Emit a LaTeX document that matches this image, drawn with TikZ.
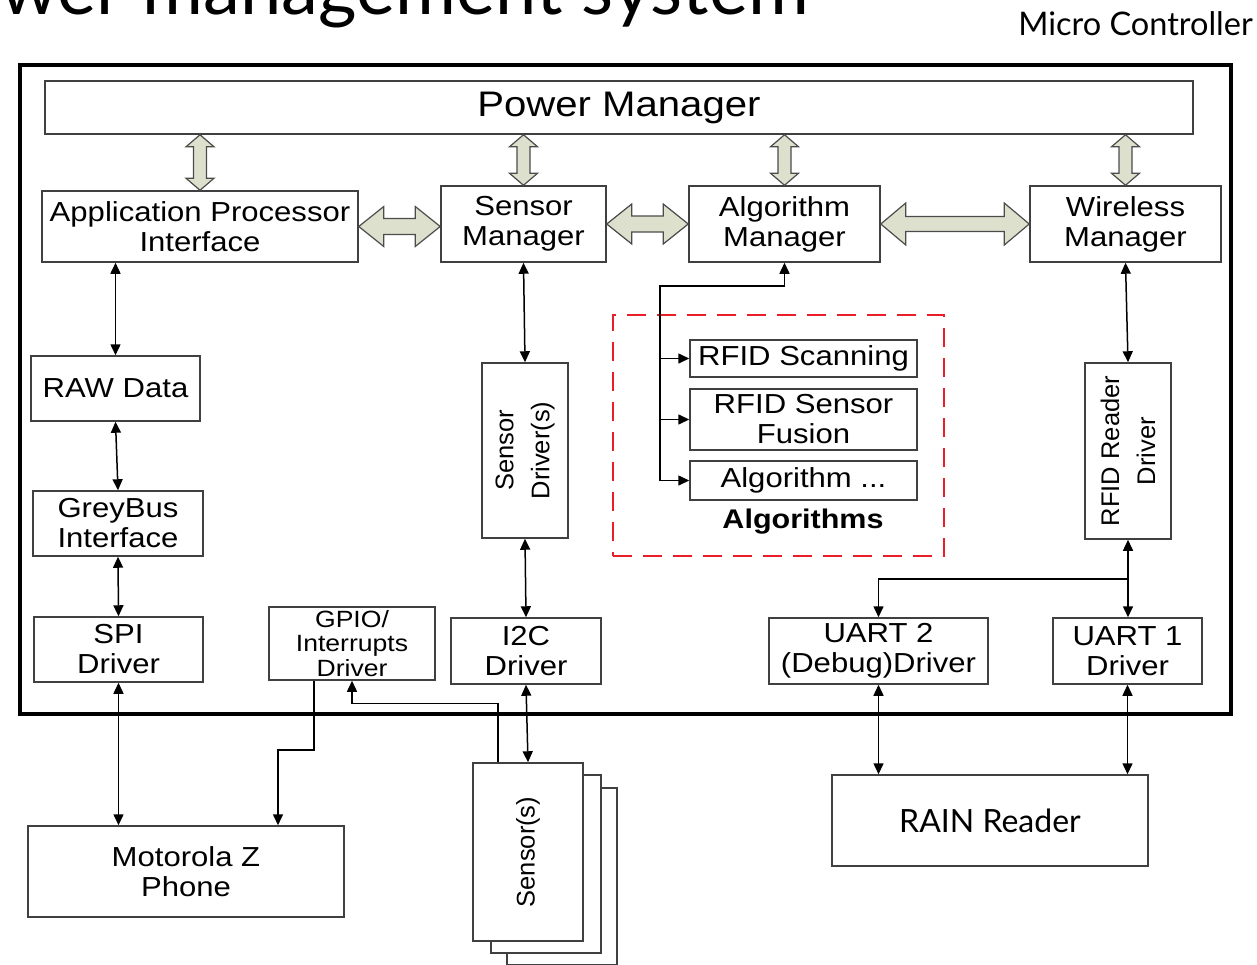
\documentclass[tikz,border=0pt]{standalone}
\usepackage{fontspec}
\setmainfont{Liberation Sans}
\newfontfamily\boxfont[FakeStretch=1.13]{Liberation Sans}
\newfontfamily\latofont{Lato}
\usetikzlibrary{positioning, calc, arrows.meta}

\definecolor{fatfill}{RGB}{221,224,205}
\definecolor{dashred}{RGB}{234,30,40}

% hollow double arrow between two points
\newcommand{\fatlink}[5]{%
  \draw[fat] (#1) -- ($(#1)!#3!(#2)!#4!90:(#2)$) -- ($(#1)!#3!(#2)!#5!90:(#2)$)
    -- ($(#2)!#3!(#1)!#5!-90:(#1)$) -- ($(#2)!#3!(#1)!#4!-90:(#1)$) -- (#2)
    -- ($(#2)!#3!(#1)!#4!90:(#1)$) -- ($(#2)!#3!(#1)!#5!90:(#1)$)
    -- ($(#1)!#3!(#2)!#5!-90:(#2)$) -- ($(#1)!#3!(#2)!#4!-90:(#2)$) -- cycle;}

\begin{document}
\begin{tikzpicture}[x=1pt, y=-1pt, >={Triangle[length=11pt,width=10pt]},
  box/.style={draw=black!75, line width=1.5pt, fill=white, align=center, inner sep=0pt, font=\boxfont\fontsize{27.5}{30}\selectfont},
  vbox/.style={box, rotate=90, font=\fontsize{25.5}{36}\selectfont},
  link/.style={line width=1.5pt},
  fat/.style={draw=black!70, fill=fatfill, line width=1.2pt},
  algbox/.style={draw=dashred, line width=2pt, dash pattern=on 19pt off 11pt}]
  \useasboundingbox (0,0) rectangle (1257,964);

  \node[anchor=base west, inner sep=0pt, font=\latofont\fontsize{74}{74}\selectfont] (title) at (0,14) {wer management system};
  \node[anchor=base east, inner sep=0pt, font=\latofont\fontsize{32.5}{32.5}\selectfont] (mclabel) at (1253,35) {Micro Controller};
  \node[draw, line width=4pt, minimum width=1211pt, minimum height=649pt] (mcu) at (625.5,389.5) {};

  % managers
  \node[box, minimum width=1148pt, minimum height=53pt, font=\boxfont\fontsize{35.5}{35.5}\selectfont] (pm) at (619,107.5) {Power Manager};
  \node[box, minimum width=316pt, minimum height=71pt] (api) at (200,226.5) {Application Processor\\Interface};
  \node[box, minimum width=165pt, minimum height=76pt] (sm) at (523.5,224) {Sensor\\Manager};
  \node[box, minimum width=191pt, minimum height=76pt] (am) at (784.5,224) {Algorithm\\Manager};
  \node[box, minimum width=191pt, minimum height=76pt] (wm) at (1125.5,224) {Wireless\\Manager};

  % drivers
  \node[box, minimum width=169pt, minimum height=65pt] (raw) at (115.5,388.5) {RAW Data};
  \node[box, minimum width=170pt, minimum height=65pt] (gb) at (118,523.5) {GreyBus\\Interface};
  \node[box, minimum width=169pt, minimum height=65pt] (spi) at (118.5,649.5) {SPI\\Driver};
  \node[box, minimum width=166pt, minimum height=73pt, font=\boxfont\fontsize{23.5}{24.5}\selectfont] (gpio) at (352,643.5) {GPIO/\\Interrupts\\Driver};
  \node[box, minimum width=150pt, minimum height=66pt] (i2c) at (526,651) {I2C\\Driver};
  \node[box, minimum width=219pt, minimum height=66pt] (uart2) at (878.5,651) {UART 2\\(Debug)Driver};
  \node[box, minimum width=149pt, minimum height=66pt] (uart1) at (1127.5,651) {UART 1\\Driver};
  \node[vbox, minimum width=175pt, minimum height=86pt] (sd) at (525,450.5) {Sensor\\Driver(s)};
  \node[vbox, minimum width=176pt, minimum height=86pt] (rfd) at (1128,451) {RFID Reader\\Driver};

  % algorithms
  \node[algbox, minimum width=331pt, minimum height=241pt] (algs) at (778.5,435.5) {};
  \node[box, minimum width=227pt, minimum height=37pt] (rs) at (803.5,358.5) {RFID Scanning};
  \node[box, minimum width=227pt, minimum height=61pt] (rsf) at (803.5,419.5) {RFID Sensor\\Fusion};
  \node[box, minimum width=227pt, minimum height=39pt] (ad) at (803.5,480.5) {Algorithm ...};
  \node[font=\boxfont\bfseries\fontsize{27}{30}\selectfont] (algtitle) at (803,522) {Algorithms};

  % outside the controller
  \node[box, minimum width=316pt, minimum height=91pt] (mz) at (186,871.5) {Motorola Z\\Phone};
  \node[box, minimum width=316pt, minimum height=91pt, font=\latofont\fontsize{32}{32}\selectfont] (rain) at (990,820.5) {RAIN Reader};
  \node[box, minimum width=110pt, minimum height=177pt] (sen3) at (562,876.5) {};
  \node[box, minimum width=110pt, minimum height=178pt] (sen2) at (546,864) {};
  \node[vbox, minimum width=178pt, minimum height=110pt] (sen1) at (528,852) {Sensor(s)};

  % hollow arrows
  \coordinate (pa) at (pm.south -| api.north);
  \coordinate (ps) at (pm.south -| sm.north);
  \coordinate (pg) at (pm.south -| am.north);
  \coordinate (pw) at (pm.south -| wm.north);
  \coordinate (hs) at (api.east -| sm.west);
  \fatlink{pa}{api.north}{12pt}{14pt}{6.5pt}
  \fatlink{ps}{sm.north}{12pt}{14pt}{6.5pt}
  \fatlink{pg}{am.north}{12pt}{14pt}{6.5pt}
  \fatlink{pw}{wm.north}{12pt}{14pt}{6.5pt}
  \fatlink{api.east}{hs}{25pt}{20pt}{8pt}
  \fatlink{sm.east}{am.west}{25pt}{20pt}{8pt}
  \fatlink{am.east}{wm.west}{25pt}{21pt}{7.5pt}

  % left column
  \draw[link,<->] (raw.north |- api.south) -- (raw.north);
  \draw[link,<->] (raw.south) -- (gb.north);
  \draw[link,<->] (gb.south) -- (spi.north);
  \draw[link,<->] (spi.south) -- (spi.south |- mz.north);
  \coordinate (mzin) at ([xshift=92pt]mz.north);
  \draw[link,->] ([xshift=-38pt]gpio.south) -- ++(0,69) -| (mzin);
  \draw[link,->] ([xshift=-30pt]sen1.east) -- ++(0,-59) -| (gpio.south);

  % sensor column
  \draw[link,<->] (sm.south) -- (sd.east);
  \draw[link,<->] (sd.west) -- (i2c.north);
  \draw[link,<->] (i2c.south) -- (sen1.east);

  % algorithm tree
  \coordinate (split) at (660,286);
  \draw[link,->] (split |- ad.west) -- (split) -| (am.south);
  \draw[link,->] (split |- rs.west) -- (rs.west);
  \draw[link,->] (split |- rsf.west) -- (rsf.west);
  \draw[link,->] (split |- ad.west) -- (ad.west);

  % wireless column
  \draw[link,<->] (wm.south) -- (rfd.east);
  \draw[link,<->] (rfd.west) -- (rfd.west |- uart1.north);
  \draw[link,->] ([yshift=-39pt]rfd.west) -| (uart2.north);
  \draw[link,<->] (uart2.south) -- (uart2.south |- rain.north);
  \draw[link,<->] (uart1.south) -- (uart1.south |- rain.north);
\end{tikzpicture}
\end{document}
